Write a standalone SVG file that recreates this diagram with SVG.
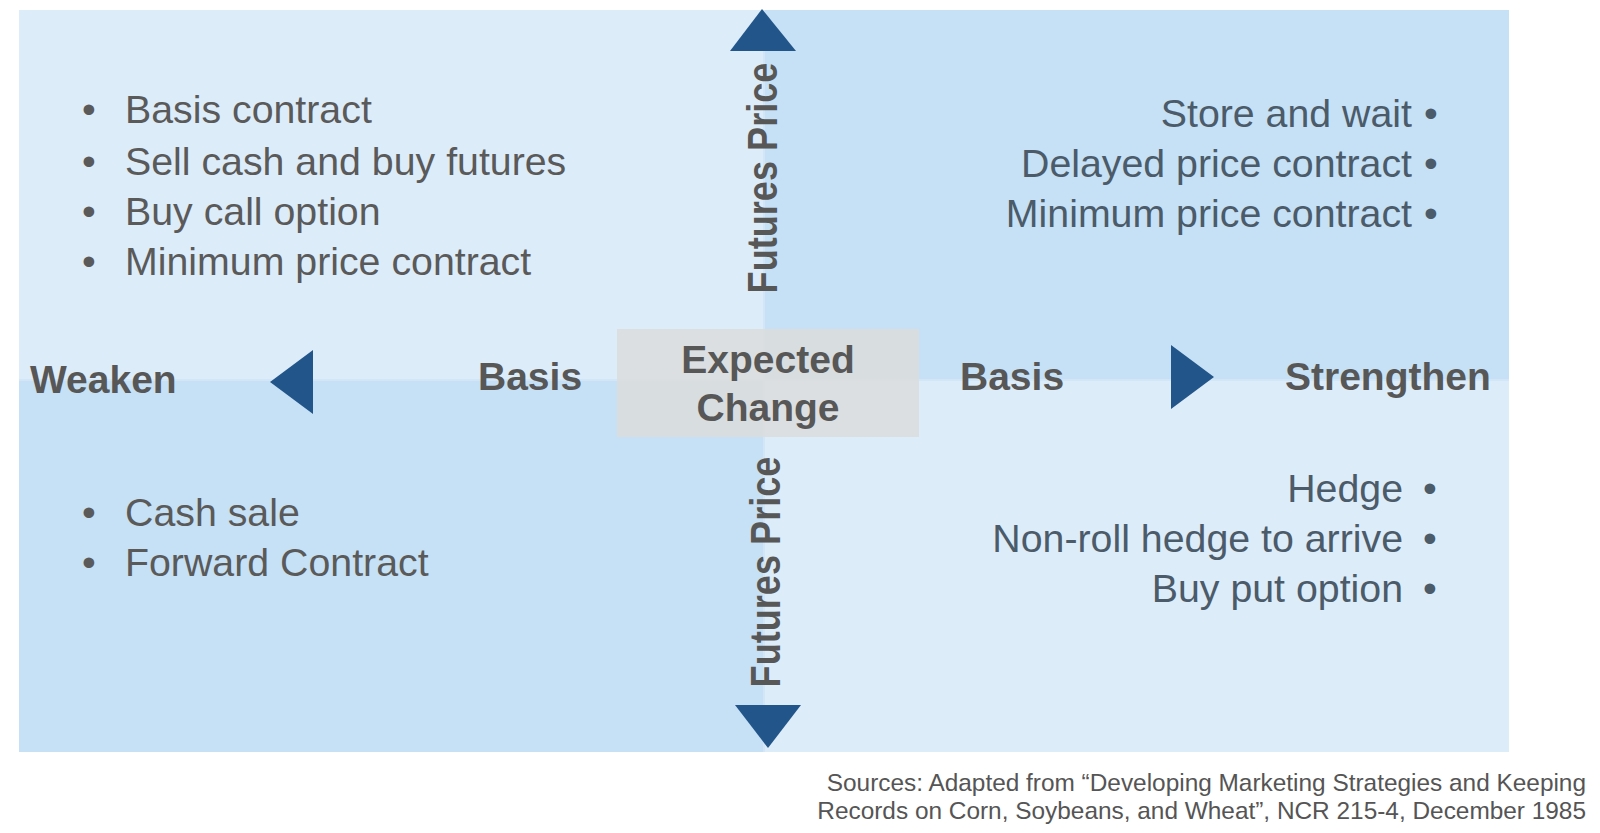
<svg xmlns="http://www.w3.org/2000/svg" width="1600" height="833" viewBox="0 0 1600 833">
<style>
.light{fill:#ddecf9}
.dark{fill:#c6e1f5}
.arrow{fill:#22558a}
.lbl{font-family:"Liberation Sans",Arial,sans-serif;font-weight:bold;font-size:39px;fill:#575757}
.vlbl{font-family:"Liberation Sans",Arial,sans-serif;font-weight:bold;font-size:42px;fill:#575757}
.item{font-family:"Liberation Sans",Arial,sans-serif;font-size:39.3px;fill:#5a5a5a}
.ritem{font-family:"Liberation Sans",Arial,sans-serif;font-size:39.3px;fill:#4b5b69}
.src{font-family:"Liberation Sans",Arial,sans-serif;font-size:24.4px;fill:#555555}
</style>
<rect width="1600" height="833" fill="#ffffff"/>
<g id="quadrants">
<rect class="light" x="19" y="10" width="745" height="370"/>
<rect class="dark" x="764" y="10" width="745" height="370"/>
<rect class="dark" x="19" y="380" width="745" height="372"/>
<rect class="light" x="764" y="380" width="745" height="372"/>
<line x1="764" y1="10" x2="764" y2="752" stroke="#d2e6f7" stroke-width="2"/>
<line x1="19" y1="380" x2="1509" y2="380" stroke="#d2e6f7" stroke-width="2"/>
</g>
<g id="connectors">
<polygon class="arrow" points="762,9 796,51 730,51"/>
<polygon class="arrow" points="735,705 801,705 768,748"/>
<polygon class="arrow" points="270,382 313,350 313,414"/>
<polygon class="arrow" points="1171,345 1214,377 1171,409"/>
</g>
<g id="center">
<rect x="617" y="329" width="302" height="108" fill="#dcdcdc" fill-opacity="0.82"/>
<text class="lbl" x="768" y="373" text-anchor="middle">Expected</text>
<text class="lbl" x="768" y="421" text-anchor="middle">Change</text>
</g>
<g id="axis-labels">
<text class="lbl" x="30" y="393">Weaken</text>
<text class="lbl" x="478" y="390">Basis</text>
<text class="lbl" x="960" y="390">Basis</text>
<text class="lbl" x="1285" y="390">Strengthen</text>
<text class="vlbl" text-anchor="middle" transform="translate(777,178) rotate(-90) scale(0.86,1)">Futures Price</text>
<text class="vlbl" text-anchor="middle" transform="translate(780,572) rotate(-90) scale(0.86,1)">Futures Price</text>
</g>
<g id="top-left">
<text class="item" x="89" y="123" text-anchor="middle">•</text><text class="item" x="125" y="123">Basis contract</text>
<text class="item" x="89" y="175" text-anchor="middle">•</text><text class="item" x="125" y="175">Sell cash and buy futures</text>
<text class="item" x="89" y="225" text-anchor="middle">•</text><text class="item" x="125" y="225">Buy call option</text>
<text class="item" x="89" y="275" text-anchor="middle">•</text><text class="item" x="125" y="275">Minimum price contract</text>
</g>
<g id="top-right">
<text class="ritem" x="1412" y="127" text-anchor="end">Store and wait</text><text class="ritem" x="1431" y="127" text-anchor="middle">•</text>
<text class="ritem" x="1412" y="177" text-anchor="end">Delayed price contract</text><text class="ritem" x="1431" y="177" text-anchor="middle">•</text>
<text class="ritem" x="1412" y="227" text-anchor="end">Minimum price contract</text><text class="ritem" x="1431" y="227" text-anchor="middle">•</text>
</g>
<g id="bottom-left">
<text class="item" x="89" y="526" text-anchor="middle">•</text><text class="item" x="125" y="526">Cash sale</text>
<text class="item" x="89" y="576" text-anchor="middle">•</text><text class="item" x="125" y="576">Forward Contract</text>
</g>
<g id="bottom-right">
<text class="ritem" x="1403" y="502" text-anchor="end">Hedge</text><text class="ritem" x="1430" y="502" text-anchor="middle">•</text>
<text class="ritem" x="1403" y="552" text-anchor="end">Non-roll hedge to arrive</text><text class="ritem" x="1430" y="552" text-anchor="middle">•</text>
<text class="ritem" x="1403" y="602" text-anchor="end">Buy put option</text><text class="ritem" x="1430" y="602" text-anchor="middle">•</text>
</g>
<g id="sources">
<text class="src" x="1586" y="791" text-anchor="end">Sources: Adapted from “Developing Marketing Strategies and Keeping</text>
<text class="src" x="1586" y="819" text-anchor="end">Records on Corn, Soybeans, and Wheat”, NCR 215-4, December 1985</text>
</g>
</svg>
